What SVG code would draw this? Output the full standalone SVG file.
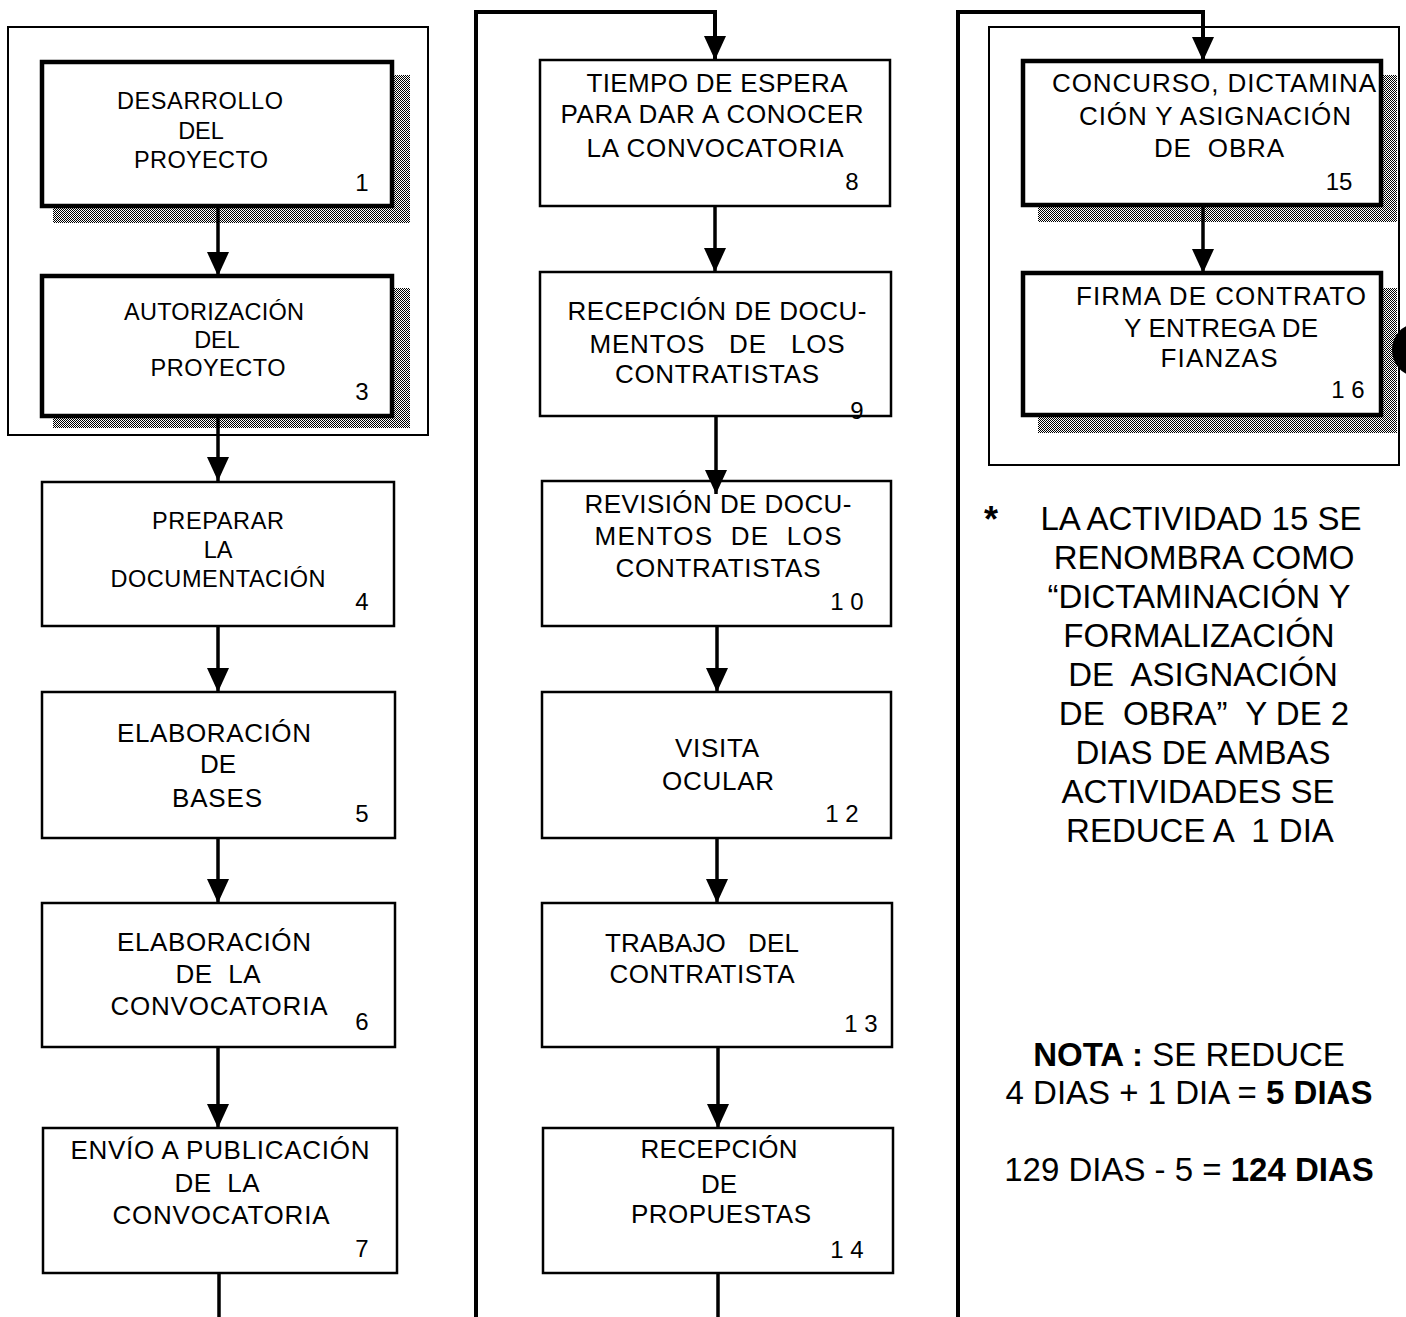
<svg xmlns="http://www.w3.org/2000/svg" width="1406" height="1317" viewBox="0 0 1406 1317">
<style>
  text { font-family: "Liberation Sans", Arial, sans-serif; fill: #000; text-anchor: middle; }
  .s22 { font-size: 23.5px; }
  .s24 { font-size: 26px; }
  .num { font-size: 24px; }
  .note { font-size: 33px; }
  .b { font-weight: bold; }
  .thick { fill: #fff; stroke: #000; stroke-width: 4.5; }
  .thin { fill: #fff; stroke: #000; stroke-width: 2.5; }
  .frame { fill: none; stroke: #000; stroke-width: 2; }
  .shadow { fill: url(#dots); stroke: none; }
  .conn { fill: none; stroke: #000; stroke-width: 3.5; }
  .loop { fill: none; stroke: #000; stroke-width: 4; }
</style>
<defs>
  <pattern id="dots" width="2" height="2" patternUnits="userSpaceOnUse">
    <rect width="2" height="2" fill="#fff"/>
    <rect x="0" y="0" width="1" height="1" fill="#000"/>
    <rect x="1" y="1" width="1" height="1" fill="#000"/>
  </pattern>
  <marker id="arrow" viewBox="0 0 24 22" markerUnits="userSpaceOnUse" markerWidth="24" markerHeight="22" refX="24" refY="11" orient="auto">
    <path d="M0,0 L24,11 L0,22 z" fill="#000"/>
  </marker>
</defs>
<rect width="1406" height="1317" fill="#fff"/>

<!-- frames and shadows -->
<g id="frames">
  <rect class="frame" x="8" y="27" width="420" height="408"/>
  <rect class="frame" x="989" y="27" width="410" height="438"/>
  <path class="shadow" d="M392,75 H410 V223 H53 V207 H392 Z"/>
  <path class="shadow" d="M392,288 H410 V428 H53 V416 H392 Z"/>
  <path class="shadow" d="M1381,75 H1397 V222 H1038 V206 H1381 Z"/>
  <path class="shadow" d="M1381,288 H1397 V433 H1038 V415 H1381 Z"/>
</g>

<g id="n1">
  <rect class="thick" x="42" y="62" width="350" height="144"/>
  <text class="s22" x="200" y="109" textLength="166">DESARROLLO</text>
  <text class="s22" x="201" y="139">DEL</text>
  <text class="s22" x="201" y="168" textLength="134">PROYECTO</text>
  <text class="num" x="362" y="191">1</text>
</g>
<g id="n3">
  <rect class="thick" x="42" y="276" width="350" height="140"/>
  <text class="s22" x="214" y="320" textLength="180">AUTORIZACIÓN</text>
  <text class="s22" x="217" y="348">DEL</text>
  <text class="s22" x="218" y="376" textLength="135">PROYECTO</text>
  <text class="num" x="362" y="400">3</text>
</g>
<g id="n4">
  <rect class="thin" x="42" y="482" width="352" height="144"/>
  <text class="s22" x="218" y="529" textLength="132">PREPARAR</text>
  <text class="s22" x="218" y="558">LA</text>
  <text class="s22" x="218" y="587" textLength="215">DOCUMENTACIÓN</text>
  <text class="num" x="362" y="610">4</text>
</g>
<g id="n5">
  <rect class="thin" x="42" y="692" width="353" height="146"/>
  <text class="s24" x="214" y="742" textLength="194">ELABORACIÓN</text>
  <text class="s24" x="218" y="773">DE</text>
  <text class="s24" x="217" y="807" textLength="90">BASES</text>
  <text class="num" x="362" y="822">5</text>
</g>
<g id="n6">
  <rect class="thin" x="42" y="903" width="353" height="144"/>
  <text class="s24" x="214" y="951" textLength="194">ELABORACIÓN</text>
  <text class="s24" x="218" y="983" textLength="85" xml:space="preserve">DE  LA</text>
  <text class="s24" x="219" y="1015" textLength="217">CONVOCATORIA</text>
  <text class="num" x="362" y="1030">6</text>
</g>
<g id="n7">
  <rect class="thin" x="43" y="1128" width="354" height="145"/>
  <text class="s24" x="220" y="1159" textLength="299">ENVÍO A PUBLICACIÓN</text>
  <text class="s24" x="217" y="1192" textLength="85" xml:space="preserve">DE  LA</text>
  <text class="s24" x="221" y="1224" textLength="217">CONVOCATORIA</text>
  <text class="num" x="362" y="1257">7</text>
</g>

<g id="n8">
  <rect class="thin" x="540" y="60" width="350" height="146"/>
  <text class="s24" x="717" y="92" textLength="261">TIEMPO DE ESPERA</text>
  <text class="s24" x="712" y="123" textLength="303">PARA DAR A CONOCER</text>
  <text class="s24" x="715" y="157" textLength="257">LA CONVOCATORIA</text>
  <text class="num" x="852" y="190">8</text>
</g>
<g id="n9">
  <rect class="thin" x="540" y="272" width="351" height="144"/>
  <text class="s24" x="717" y="320" textLength="299">RECEPCIÓN DE DOCU-</text>
  <text class="s24" x="717" y="353" textLength="255" xml:space="preserve">MENTOS   DE   LOS</text>
  <text class="s24" x="717" y="383" textLength="204">CONTRATISTAS</text>
  <text class="num" x="857" y="419">9</text>
</g>
<g id="n10">
  <rect class="thin" x="542" y="481" width="349" height="145"/>
  <text class="s24" x="718" y="513" textLength="267">REVISIÓN DE DOCU-</text>
  <text class="s24" x="718" y="545" textLength="247" xml:space="preserve">MENTOS  DE  LOS</text>
  <text class="s24" x="718" y="577" textLength="205">CONTRATISTAS</text>
  <text class="num" x="847" y="610" xml:space="preserve">1 0</text>
</g>
<g id="n12">
  <rect class="thin" x="542" y="692" width="349" height="146"/>
  <text class="s24" x="717" y="757" textLength="84">VISITA</text>
  <text class="s24" x="718" y="790" textLength="112">OCULAR</text>
  <text class="num" x="842" y="822" xml:space="preserve">1 2</text>
</g>
<g id="n13">
  <rect class="thin" x="542" y="903" width="350" height="144"/>
  <text class="s24" x="702" y="952" textLength="194" xml:space="preserve">TRABAJO   DEL</text>
  <text class="s24" x="702" y="983" textLength="185">CONTRATISTA</text>
  <text class="num" x="861" y="1032" xml:space="preserve">1 3</text>
</g>
<g id="n14">
  <rect class="thin" x="543" y="1128" width="350" height="145"/>
  <text class="s24" x="719" y="1158" textLength="157">RECEPCIÓN</text>
  <text class="s24" x="719" y="1193">DE</text>
  <text class="s24" x="721" y="1223" textLength="180">PROPUESTAS</text>
  <text class="num" x="847" y="1258" xml:space="preserve">1 4</text>
</g>

<g id="n15">
  <rect class="thick" x="1023" y="61" width="358" height="144"/>
  <text class="s24" x="1214" y="92" textLength="324">CONCURSO, DICTAMINA</text>
  <text class="s24" x="1215" y="125" textLength="272">CIÓN Y ASIGNACIÓN</text>
  <text class="s24" x="1219" y="157" textLength="130" xml:space="preserve">DE  OBRA</text>
  <text class="num" x="1339" y="190">15</text>
</g>
<g id="n16">
  <rect class="thick" x="1023" y="273" width="358" height="142"/>
  <text class="s24" x="1221" y="305" textLength="290">FIRMA DE CONTRATO</text>
  <text class="s24" x="1221" y="337" textLength="194">Y ENTREGA DE</text>
  <text class="s24" x="1219" y="367" textLength="117">FIANZAS</text>
  <text class="num" x="1348" y="398" xml:space="preserve">1 6</text>
</g>

<!-- connectors (drawn above nodes, as in the reference) -->
<g id="connectors">
  <line class="conn" x1="218" y1="207" x2="218" y2="276" marker-end="url(#arrow)"/>
  <line class="conn" x1="218" y1="417" x2="218" y2="481" marker-end="url(#arrow)"/>
  <line class="conn" x1="218" y1="627" x2="218" y2="692" marker-end="url(#arrow)"/>
  <line class="conn" x1="218" y1="839" x2="218" y2="903" marker-end="url(#arrow)"/>
  <line class="conn" x1="218" y1="1048" x2="218" y2="1128" marker-end="url(#arrow)"/>
  <line class="conn" x1="219" y1="1274" x2="219" y2="1317"/>
  <path class="loop" d="M476,1317 V12 H715 V60" marker-end="url(#arrow)"/>
  <line class="conn" x1="715" y1="207" x2="715" y2="272" marker-end="url(#arrow)"/>
  <line class="conn" x1="716" y1="417" x2="716" y2="494" marker-end="url(#arrow)"/>
  <line class="conn" x1="717" y1="627" x2="717" y2="692" marker-end="url(#arrow)"/>
  <line class="conn" x1="717" y1="839" x2="717" y2="903" marker-end="url(#arrow)"/>
  <line class="conn" x1="718" y1="1048" x2="718" y2="1128" marker-end="url(#arrow)"/>
  <line class="conn" x1="718" y1="1274" x2="718" y2="1317"/>
  <path class="loop" d="M958,1317 V12 H1203 V61" marker-end="url(#arrow)"/>
  <line class="conn" x1="1203" y1="207" x2="1203" y2="273" marker-end="url(#arrow)"/>
</g>

<ellipse id="edge-mark" cx="1416" cy="350" rx="24" ry="26" fill="#000"/>

<g id="note-renombra">
  <text class="b" x="991" y="532" style="font-size:36px">*</text>
  <text class="note" x="1201" y="530">LA ACTIVIDAD 15 SE</text>
  <text class="note" x="1204" y="569">RENOMBRA COMO</text>
  <text class="note" x="1199" y="608">“DICTAMINACIÓN Y</text>
  <text class="note" x="1199" y="647">FORMALIZACIÓN</text>
  <text class="note" x="1203" y="686" xml:space="preserve">DE  ASIGNACIÓN</text>
  <text class="note" x="1204" y="725" xml:space="preserve">DE  OBRA”  Y DE 2</text>
  <text class="note" x="1203" y="764">DIAS DE AMBAS</text>
  <text class="note" x="1198" y="803">ACTIVIDADES SE</text>
  <text class="note" x="1200" y="842" xml:space="preserve">REDUCE A  1 DIA</text>
</g>

<g id="note-total">
  <text class="note" x="1189" y="1066"><tspan class="b">NOTA :</tspan> SE REDUCE</text>
  <text class="note" x="1189" y="1104">4 DIAS + 1 DIA = <tspan class="b">5 DIAS</tspan></text>
  <text class="note" x="1189" y="1181">129 DIAS - 5 = <tspan class="b">124 DIAS</tspan></text>
</g>
</svg>
